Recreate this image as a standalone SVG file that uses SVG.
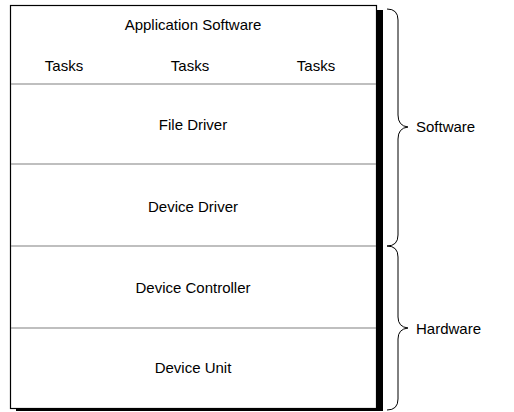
<svg xmlns="http://www.w3.org/2000/svg" width="514" height="412" viewBox="0 0 514 412">
<style>
text{font-family:"Liberation Sans",Arial,sans-serif;font-size:15px;fill:#000;text-anchor:middle}
.div{stroke:#808080;stroke-width:1.2;fill:none}
.brace{stroke:#000;stroke-width:1;fill:none}
.lbl{text-anchor:start}
</style>
<rect x="0" y="0" width="514" height="412" fill="#fff"/>
<g id="shadow">
<rect x="377" y="10" width="6" height="401" fill="#000"/>
<rect x="16" y="408" width="367" height="3" fill="#000"/>
</g>
<g id="frame">
<rect x="10.5" y="5.5" width="366" height="403" fill="#fff" stroke="#000" stroke-width="1.2"/>
</g>
<g id="connectors">
<line class="div" x1="11" y1="84" x2="376" y2="84"/>
<line class="div" x1="11" y1="164" x2="376" y2="164"/>
<line class="div" x1="11" y1="246" x2="376" y2="246"/>
<line class="div" x1="11" y1="328" x2="376" y2="328"/>
</g>
<g id="app">
<text x="193" y="30">Application Software</text>
<text x="64" y="71">Tasks</text>
<text x="190" y="71">Tasks</text>
<text x="316" y="71">Tasks</text>
</g>
<g id="file-driver"><text x="193" y="130">File Driver</text></g>
<g id="device-driver"><text x="193" y="212">Device Driver</text></g>
<g id="device-controller"><text x="193" y="293">Device Controller</text></g>
<g id="device-unit"><text x="193" y="373">Device Unit</text></g>
<g id="software-brace">
<path class="brace" d="M387,9 Q398,9 398,20 L398,115 Q398,126 408,127 Q398,128 398,139 L398,235 Q398,246 387,246"/>
<text class="lbl" x="416" y="132">Software</text>
</g>
<g id="hardware-brace">
<path class="brace" d="M387,246 Q398,246 398,257 L398,317 Q398,327 408,328 Q398,329 398,339 L398,399 Q398,410 387,410"/>
<text class="lbl" x="416" y="334">Hardware</text>
</g>
</svg>
